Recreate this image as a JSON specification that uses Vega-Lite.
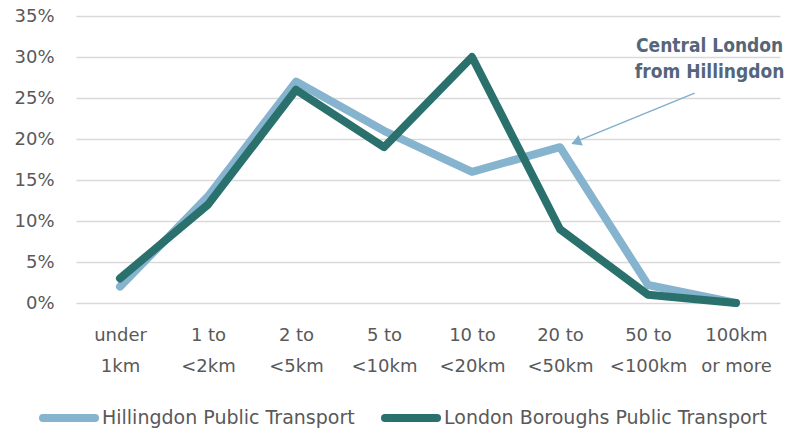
{
  "$schema": "https://vega.github.io/schema/vega-lite/v6.json",
  "width": 704,
  "height": 287,
  "autosize": {"type": "none"},
  "padding": {"left": 76, "top": 16, "right": 7, "bottom": 127},
  "background": "white",
  "config": {
    "view": {"stroke": null},
    "font": "DejaVu Sans",
    "axis": {"labelFont": "DejaVu Sans", "labelColor": "#595959", "labelFontSize": 18}
  },
  "datasets": {
    "series": [
      {"i": 0, "cat": "under 1km", "series": "Hillingdon Public Transport", "v": 0.02},
      {"i": 1, "cat": "1 to <2km", "series": "Hillingdon Public Transport", "v": 0.13},
      {"i": 2, "cat": "2 to <5km", "series": "Hillingdon Public Transport", "v": 0.27},
      {"i": 3, "cat": "5 to <10km", "series": "Hillingdon Public Transport", "v": 0.21},
      {"i": 4, "cat": "10 to <20km", "series": "Hillingdon Public Transport", "v": 0.16},
      {"i": 5, "cat": "20 to <50km", "series": "Hillingdon Public Transport", "v": 0.19},
      {"i": 6, "cat": "50 to <100km", "series": "Hillingdon Public Transport", "v": 0.022},
      {"i": 7, "cat": "100km or more", "series": "Hillingdon Public Transport", "v": 0.0},
      {"i": 0, "cat": "under 1km", "series": "London Boroughs Public Transport", "v": 0.03},
      {"i": 1, "cat": "1 to <2km", "series": "London Boroughs Public Transport", "v": 0.12},
      {"i": 2, "cat": "2 to <5km", "series": "London Boroughs Public Transport", "v": 0.26},
      {"i": 3, "cat": "5 to <10km", "series": "London Boroughs Public Transport", "v": 0.19},
      {"i": 4, "cat": "10 to <20km", "series": "London Boroughs Public Transport", "v": 0.30},
      {"i": 5, "cat": "20 to <50km", "series": "London Boroughs Public Transport", "v": 0.09},
      {"i": 6, "cat": "50 to <100km", "series": "London Boroughs Public Transport", "v": 0.01},
      {"i": 7, "cat": "100km or more", "series": "London Boroughs Public Transport", "v": 0.0}
    ],
    "arrow": [{"x": 6.53, "y": 0.256, "x2": 5.14, "y2": 0.195}],
    "head": [{"x": 5.2, "y": 0.197}],
    "note": [{"x": 6.7, "y": 0.314, "t": "Central London"}, {"x": 6.7, "y": 0.282, "t": "from Hillingdon"}]
  },
  "layer": [
    {
      "data": {"name": "series"},
      "mark": {"type": "line", "strokeWidth": 8, "strokeJoin": "round", "strokeCap": "round"},
      "encoding": {
        "x": {
          "field": "i", "type": "quantitative",
          "scale": {"domain": [-0.5, 7.5], "nice": false, "zero": false},
          "axis": {
            "title": null, "values": [0, 1, 2, 3, 4, 5, 6, 7], "grid": false, "domain": false, "ticks": false,
            "labelPadding": 23, "labelLineHeight": 31, "labelBaseline": "top",
            "labelExpr": "[['under','1km'],['1 to','<2km'],['2 to','<5km'],['5 to','<10km'],['10 to','<20km'],['20 to','<50km'],['50 to','<100km'],['100km','or more']][datum.value]"
          }
        },
        "y": {
          "field": "v", "type": "quantitative",
          "scale": {"domain": [0, 0.35], "nice": false},
          "axis": {
            "title": null, "format": ".0%", "values": [0, 0.05, 0.1, 0.15, 0.2, 0.25, 0.3, 0.35],
            "domain": false, "ticks": false, "labelPadding": 22,
            "gridColor": "#d9d9d9", "gridWidth": 1.5
          }
        },
        "color": {
          "field": "series", "type": "nominal",
          "scale": {"domain": ["Hillingdon Public Transport", "London Boroughs Public Transport"], "range": ["#86B3CD", "#2A716D"]},
          "legend": {
            "title": null, "orient": "none", "direction": "horizontal", "legendX": -37, "legendY": 372,
            "symbolType": "stroke", "symbolStrokeWidth": 8, "symbolSize": 2704,
            "labelFont": "DejaVu Sans", "labelFontSize": 19, "labelColor": "#595959",
            "labelOffset": 3, "columnPadding": 14, "labelLimit": 400,
            "encode": {"symbols": {"update": {"strokeCap": {"value": "round"}}}}
          }
        },
        "order": {"field": "i", "type": "quantitative"}
      }
    },
    {
      "data": {"name": "arrow"},
      "mark": {"type": "rule", "color": "#7FB0CB", "strokeWidth": 1.5},
      "encoding": {
        "x": {"field": "x", "type": "quantitative"},
        "y": {"field": "y", "type": "quantitative"},
        "x2": {"field": "x2"},
        "y2": {"field": "y2"}
      }
    },
    {
      "data": {"name": "head"},
      "mark": {"type": "point", "shape": "triangle", "filled": true, "color": "#7FB0CB", "size": 130, "angle": 248, "opacity": 1},
      "encoding": {
        "x": {"field": "x", "type": "quantitative"},
        "y": {"field": "y", "type": "quantitative"}
      }
    },
    {
      "data": {"name": "note"},
      "mark": {"type": "text", "font": "DejaVu Sans Condensed", "fontWeight": "bold", "fontSize": 19, "color": "#55657A", "align": "center", "baseline": "middle"},
      "encoding": {
        "x": {"field": "x", "type": "quantitative"},
        "y": {"field": "y", "type": "quantitative"},
        "text": {"field": "t"}
      }
    }
  ]
}
